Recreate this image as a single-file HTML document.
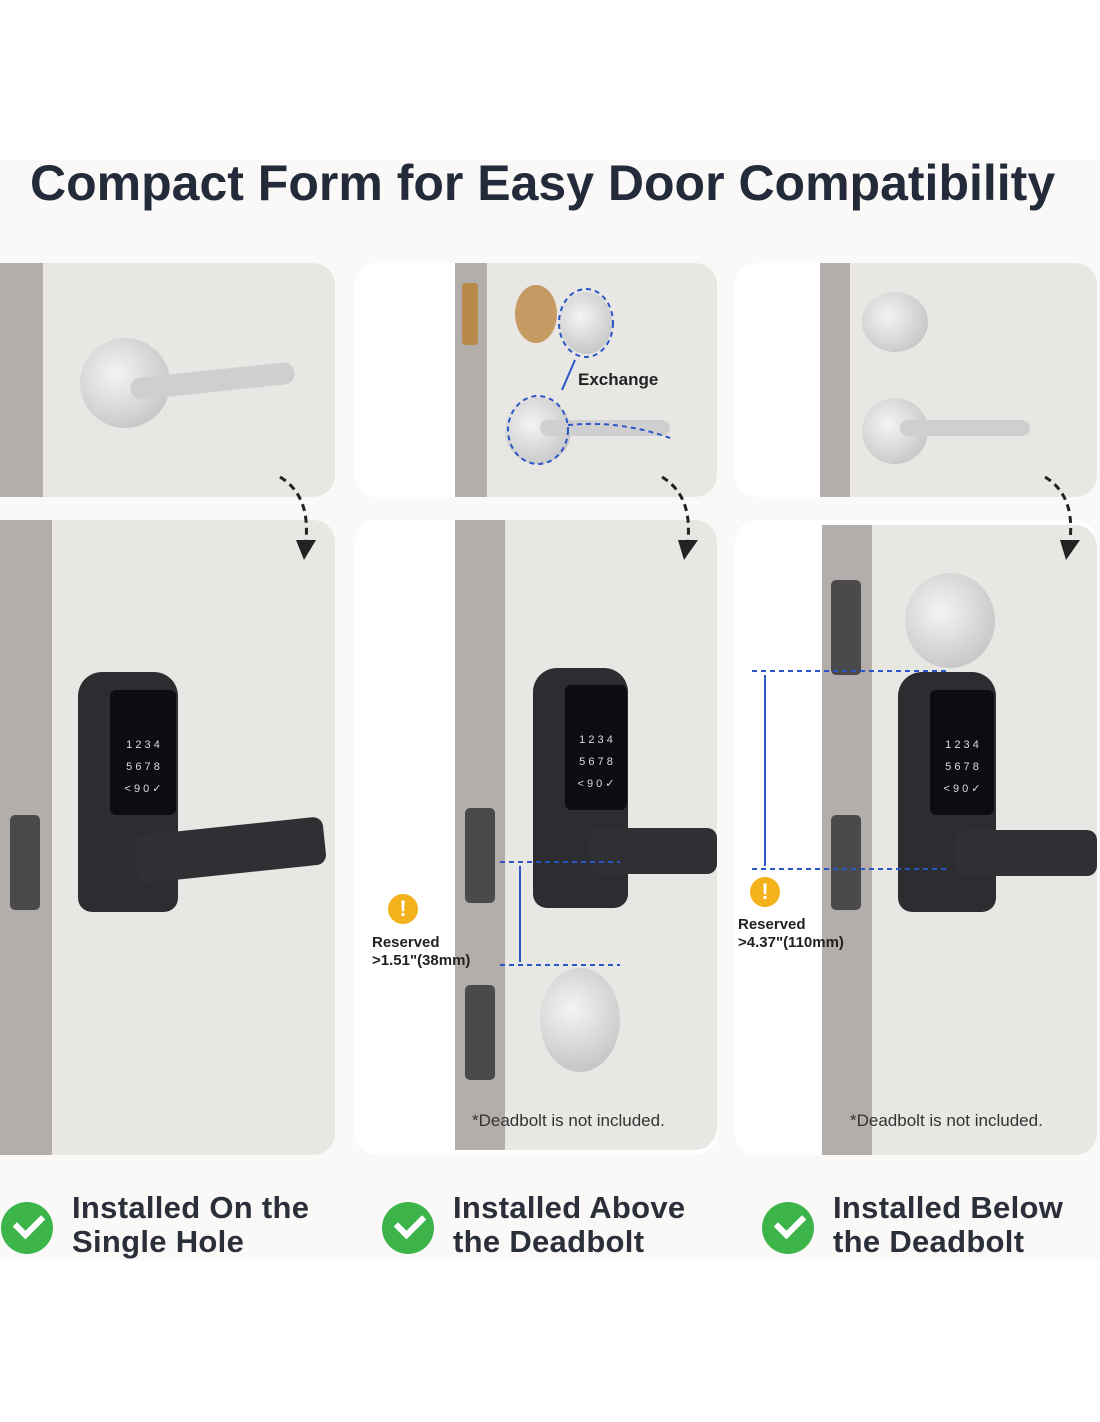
<!DOCTYPE html>
<html><head><meta charset="utf-8"><style>
body{margin:0;width:1100px;height:1422px;background:#fff;position:relative;overflow:hidden;font-family:"Liberation Sans",sans-serif}
.band{position:absolute;left:0;top:160px;width:1100px;height:1100px;background:#faf9f7}
.t{position:absolute;left:30px;top:154px;font-size:50px;font-weight:bold;color:#232b3a;letter-spacing:0px}
.p{position:absolute;background:#e9e7e4;border-radius:22px;overflow:hidden}
.w{position:absolute;background:#fff;border-radius:22px}
.s{position:absolute;background:#b3aeab}
.lbl{position:absolute;font-size:31px;font-weight:bold;color:#2a2f3a;line-height:34px;letter-spacing:0.3px}
.ck{position:absolute;width:52px;height:52px;border-radius:50%;background:#3cb44a}
.ck:after{content:"";position:absolute;left:14px;top:12px;width:22px;height:12px;border-left:6px solid #fff;border-bottom:6px solid #fff;transform:rotate(-45deg)}
.lock{position:absolute;background:#2b2d31;border-radius:24px 24px 14px 14px}
.pad{position:absolute;background:#0c0d10;border-radius:6px;color:#ddd;font-size:11px;text-align:center;line-height:22px}
.lev{position:absolute;background:#2e3034;border-radius:10px}
.note{position:absolute;font-size:17px;color:#333}
.rs{position:absolute;font-size:15px;font-weight:bold;color:#222;line-height:18px}
.warn{position:absolute;width:30px;height:30px;border-radius:50%;background:#f3b21b;color:#fff;font-weight:bold;text-align:center;line-height:30px;font-size:22px}
.plate{position:absolute;background:#4a4a4c;border-radius:5px}
.knob{position:absolute;border-radius:50%;background:radial-gradient(circle at 40% 40%,#f4f4f4,#b9b9bb)}
</style></head><body>
<div class="band"></div>
<div class="t">Compact Form for Easy Door Compatibility</div>

<div class="p" style="left:0;top:263px;width:335px;height:234px"></div>
<div class="s" style="left:0;top:263px;width:43px;height:234px"></div>
<div class="w" style="left:355px;top:263px;width:362px;height:234px"></div>
<div class="p" style="left:455px;top:263px;width:262px;height:234px;border-radius:0 22px 22px 0"></div>
<div class="s" style="left:455px;top:263px;width:32px;height:234px"></div>
<div class="w" style="left:735px;top:263px;width:362px;height:234px"></div>
<div class="p" style="left:820px;top:263px;width:277px;height:234px;border-radius:0 22px 22px 0"></div>
<div class="s" style="left:820px;top:263px;width:30px;height:234px"></div>

<div class="p" style="left:0;top:520px;width:335px;height:635px"></div>
<div class="s" style="left:0;top:520px;width:52px;height:635px"></div>
<div class="w" style="left:355px;top:520px;width:362px;height:635px"></div>
<div class="p" style="left:455px;top:520px;width:262px;height:630px;border-radius:0 22px 22px 0"></div>
<div class="s" style="left:455px;top:520px;width:50px;height:630px"></div>
<div class="w" style="left:735px;top:520px;width:362px;height:635px"></div>
<div class="p" style="left:822px;top:525px;width:275px;height:630px;border-radius:0 22px 22px 0"></div>
<div class="s" style="left:822px;top:525px;width:50px;height:630px"></div>

<div class="knob" style="left:80px;top:338px;width:90px;height:90px"></div>
<div style="position:absolute;left:130px;top:370px;width:165px;height:22px;background:#cfcfd1;border-radius:12px;transform:rotate(-6deg)"></div>
<div class="knob" style="left:505px;top:398px;width:66px;height:66px"></div>
<div style="position:absolute;left:540px;top:420px;width:130px;height:16px;background:#cfcfd1;border-radius:10px"></div>
<div class="knob" style="left:560px;top:292px;width:52px;height:62px"></div>
<div style="position:absolute;left:462px;top:283px;width:16px;height:62px;background:#b88a4a;border-radius:3px"></div>
<div style="position:absolute;left:515px;top:285px;width:42px;height:58px;background:#c59a63;border-radius:50%"></div>
<div style="position:absolute;left:578px;top:370px;font-size:17px;font-weight:bold;color:#222">Exchange</div>
<div class="knob" style="left:862px;top:292px;width:66px;height:60px"></div>
<div class="knob" style="left:862px;top:398px;width:66px;height:66px"></div>
<div style="position:absolute;left:900px;top:420px;width:130px;height:16px;background:#cfcfd1;border-radius:10px"></div>

<div class="lock" style="left:78px;top:672px;width:100px;height:240px"></div>
<div class="pad" style="left:110px;top:690px;width:66px;height:125px"><br><br>1 2 3 4<br>5 6 7 8<br>&lt; 9 0 ✓</div>
<div class="lev" style="left:135px;top:826px;width:190px;height:48px;transform:rotate(-6deg)"></div>

<div class="lock" style="left:533px;top:668px;width:95px;height:240px"></div>
<div class="pad" style="left:565px;top:685px;width:62px;height:125px"><br><br>1 2 3 4<br>5 6 7 8<br>&lt; 9 0 ✓</div>
<div class="lev" style="left:590px;top:828px;width:127px;height:46px"></div>
<div class="knob" style="left:540px;top:968px;width:80px;height:104px"></div>
<div class="plate" style="left:465px;top:808px;width:30px;height:95px"></div>
<div class="plate" style="left:465px;top:985px;width:30px;height:95px"></div>

<div class="lock" style="left:898px;top:672px;width:98px;height:240px"></div>
<div class="pad" style="left:930px;top:690px;width:64px;height:125px"><br><br>1 2 3 4<br>5 6 7 8<br>&lt; 9 0 ✓</div>
<div class="lev" style="left:955px;top:830px;width:142px;height:46px"></div>
<div class="knob" style="left:905px;top:573px;width:90px;height:95px"></div>
<div class="plate" style="left:831px;top:580px;width:30px;height:95px"></div>
<div class="plate" style="left:831px;top:815px;width:30px;height:95px"></div>
<div class="plate" style="left:10px;top:815px;width:30px;height:95px"></div>

<svg style="position:absolute;left:0;top:0" width="1100" height="1422">
<g fill="none" stroke="#222" stroke-width="3" stroke-dasharray="7 5">
<path d="M280 477 Q310 495 306 540"/><path d="M662 477 Q692 495 688 540"/><path d="M1045 477 Q1075 495 1070 540"/></g>
<g fill="#222"><path d="M296 540 L316 540 L304 560Z"/><path d="M678 540 L698 540 L684 560Z"/><path d="M1060 540 L1080 540 L1066 560Z"/></g>
<g fill="none" stroke="#2a56c6" stroke-width="2" stroke-dasharray="5 4">
<ellipse cx="586" cy="323" rx="27" ry="34"/><ellipse cx="538" cy="430" rx="30" ry="34"/><path d="M568 425 Q620 420 670 438"/>
<path d="M500 862 H620"/><path d="M500 965 H620"/><path d="M752 671 H950"/><path d="M752 869 H950"/></g>
<g stroke="#2a56c6" stroke-width="2"><path d="M520 866 V962"/><path d="M765 675 V866"/><path d="M575 360 L562 390"/></g>
</svg>
<div class="warn" style="left:388px;top:894px">!</div>
<div class="rs" style="left:372px;top:934px">Reserved<br>&gt;1.51"(38mm)</div>
<div class="warn" style="left:750px;top:877px">!</div>
<div class="rs" style="left:738px;top:916px">Reserved<br>&gt;4.37"(110mm)</div>
<div class="note" style="left:472px;top:1111px">*Deadbolt is not included.</div>
<div class="note" style="left:850px;top:1111px">*Deadbolt is not included.</div>

<div class="ck" style="left:1px;top:1202px"></div>
<div class="lbl" style="left:72px;top:1191px">Installed On the<br>Single Hole</div>
<div class="ck" style="left:382px;top:1202px"></div>
<div class="lbl" style="left:453px;top:1191px">Installed Above<br>the Deadbolt</div>
<div class="ck" style="left:762px;top:1202px"></div>
<div class="lbl" style="left:833px;top:1191px">Installed Below<br>the Deadbolt</div>
</body></html>
